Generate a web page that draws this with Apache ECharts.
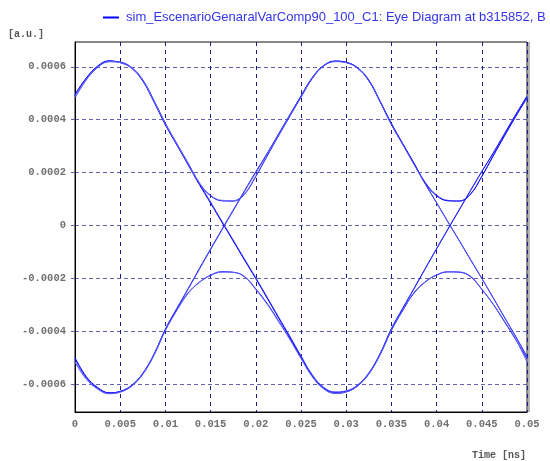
<!DOCTYPE html>
<html><head><meta charset="utf-8">
<script src="https://cdn.jsdelivr.net/npm/echarts@6/dist/echarts.min.js"></script>
<style>html,body{margin:0;padding:0;background:#fff}#c{width:550px;height:461px}</style>
</head><body><div id="c"></div>
<script>
const SERIES_NAME = 'sim_EscenarioGenaralVarComp90_100_C1: Eye Diagram at b315852, B';
const Y_UNIT = 1e-6; // trace values below are in micro a.u.

const timeNs = [0,0.00125,0.0025,0.00375,0.005,0.00625,0.0075,0.00875,0.01,0.01125,0.0125,0.01375,0.015,0.01625,0.0175,0.01875,0.02,0.02125,0.0225,0.02375,0.025,0.02625,0.0275,0.02875,0.03,0.03125,0.0325,0.03375,0.035,0.03625,0.0375,0.03875,0.04,0.04125,0.0425,0.04375,0.045,0.04625,0.0475,0.04875,0.05];

const trace110 = [492,556,601,621, 617,597,550,470,386,310,236,160,112,93,92,118,185,262,338,412,485,556,603,621, 617,596,548,468,382,307,232,157,86,14,-57,-129,-200,-273,-347,-420,-496];
const trace101 = [482,550,597,619, 618,598,551,472,386,310,235,160,89,16,-55,-127,-198,-271,-345,-418,-493,-565,-612,-630, -626,-604,-558,-484,-390,-313,-238,-162,-87,-13,60,133,205,274,347,420,488];
const trace100 = [496,558,603,623, 616,595,546,466,380,305,230,155,84,12,-59,-131,-202,-275,-349,-422,-498,-570,-617,-635, -630,-608,-562,-489,-397,-322,-256,-214,-188,-176,-177,-194,-242,-298,-364,-432,-505];
const trace111 = [488,553,599,620, 616,596,549,469,385,309,235,162,114,95,94,120,188,265,340,414,487,558,604,620, 616,595,548,468,384,308,234,163,115,95,93,119,186,264,340,413,480];
const trace011 = [-500,-572,-613,-633, -628,-606,-560,-487,-392,-315,-240,-164,-89,-15,58,131,203,272,345,418,490,560,605,622, 617,597,550,470,386,310,236,160,112,93,92,118,185,262,338,412,485];
const trace010 = [-515,-580,-618,-636, -630,-608,-563,-490,-395,-318,-243,-167,-92,-18,55,128,200,270,343,416,487,558,603,620, 616,595,547,467,381,306,231,156,85,13,-58,-130,-201,-274,-348,-421,-500];
const trace001 = [-505,-575,-615,-634, -628,-606,-560,-487,-395,-320,-256,-215,-188,-175,-177,-193,-240,-295,-360,-428,-500,-570,-615,-632, -628,-606,-560,-487,-392,-315,-240,-164,-89,-15,58,131,203,272,345,418,490];
const trace000 = [-518,-582,-619,-637, -631,-609,-563,-490,-398,-323,-258,-216,-190,-177,-178,-195,-243,-298,-363,-431,-504,-573,-618,-635, -630,-608,-562,-489,-397,-322,-254,-213,-187,-175,-176,-192,-241,-297,-362,-430,-518];

const traces = [trace110, trace101, trace100, trace111, trace011, trace010, trace001, trace000];
const traceColors = ['#0000ff','#5050ff','#0000ff','#6a6aff','#0000ff','#5a5aff','#2020ff','#6060ff'];

const xTicks = [0,0.005,0.01,0.015,0.02,0.025,0.03,0.035,0.04,0.045,0.05];
const xTickLabels = ['0','0.005','0.01','0.015','0.02','0.025','0.03','0.035','0.04','0.045','0.05'];
const yTicks = [-0.0006,-0.0004,-0.0002,0,0.0002,0.0004,0.0006];
const yTickLabels = ['-0.0006','-0.0004','-0.0002','0','0.0002','0.0004','0.0006'];

function labelFor(ticks, labels, v) {
  for (let i = 0; i < ticks.length; i++) if (Math.abs(ticks[i] - v) < 1e-9) return labels[i];
  return '';
}

const monoFont = 'Liberation Mono';
const chart = echarts.init(document.getElementById('c'), null, {renderer: 'canvas'});
chart.setOption({
  animation: false,
  backgroundColor: '#ffffff',
  grid: {left: 75, right: 23, top: 42, bottom: 49, show: true, borderColor: '#111', borderWidth: 1, backgroundColor: 'transparent'},
  legend: {
    data: [SERIES_NAME], left: 98, top: 6, itemWidth: 16, itemHeight: 2, icon: 'rect',
    textStyle: {fontFamily: 'Liberation Sans', fontSize: 13, color: '#3434f0', padding: [0,0,0,2]}
  },
  graphic: [
    {type: 'text', left: 8, top: 29, style: {text: '[a.u.]', font: 'bold 10px "Liberation Mono"', fill: '#555'}},
    {type: 'text', x: 526, y: 455, style: {text: 'Time [ns]', font: 'bold 10px "Liberation Mono"', fill: '#555', align: 'right', verticalAlign: 'middle'}},
    {type: 'rect', shape: {x: 528, y: 42, width: 2, height: 370}, style: {fill: '#b4b4b4'}}
  ],
  xAxis: {
    type: 'value', min: 0, max: 0.05, interval: 0.005,
    axisLine: {show: true, onZero: false, lineStyle: {color: '#000', width: 1}},
    axisTick: {show: false},
    axisLabel: {margin: 7, fontFamily: monoFont, fontSize: 10.5, fontWeight: 'bold', color: '#707070',
      formatter: v => labelFor(xTicks, xTickLabels, v)},
    splitLine: {show: true, lineStyle: {color: '#1c1c88', type: [4, 4], width: 1}}
  },
  yAxis: {
    type: 'value', min: -0.000706, max: 0.000694,
    axisLine: {show: true, onZero: false, lineStyle: {color: '#000', width: 1}},
    axisTick: {show: true, customValues: yTicks, length: 4, lineStyle: {color: '#5c5cac'}},
    axisLabel: {customValues: yTicks, margin: 9, fontFamily: monoFont, fontSize: 10.5, fontWeight: 'bold', color: '#707070',
      formatter: v => labelFor(yTicks, yTickLabels, v)},
    splitLine: {show: true, lineStyle: {color: '#6464b0', type: [4, 3], width: 1}}
  },
  series: traces.map((tr, i) => ({
    name: SERIES_NAME, type: 'line', smooth: 0.4, symbol: 'none',
    data: timeNs.map((t, k) => [t, tr[k] * Y_UNIT]),
    lineStyle: {color: traceColors[i], width: 1},
    itemStyle: {color: '#0000ff'}
  }))
});
</script></body></html>
